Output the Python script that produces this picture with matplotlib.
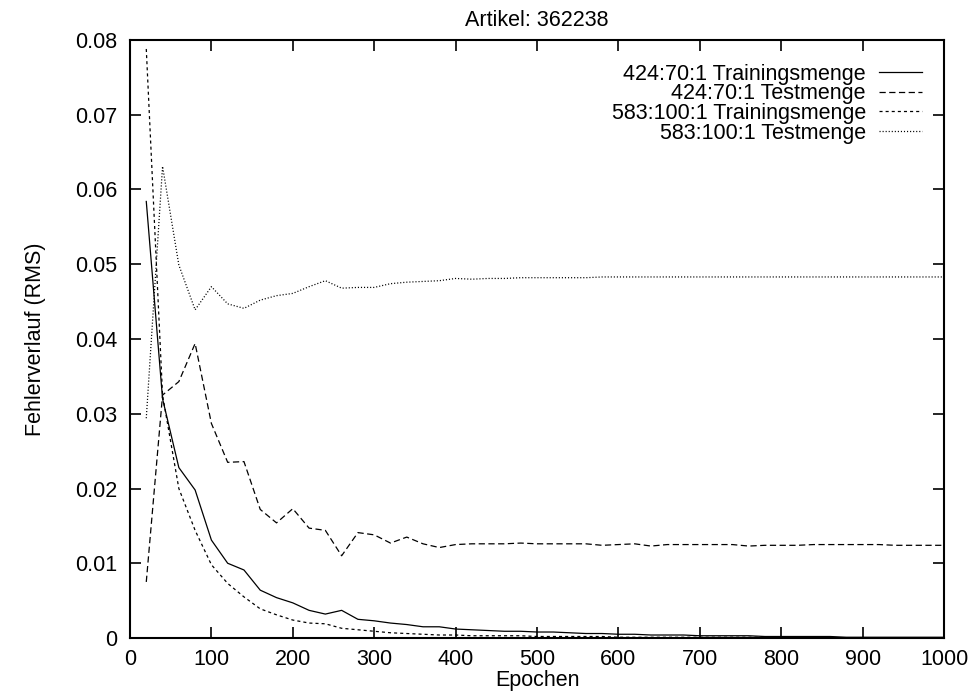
import matplotlib
matplotlib.use("Agg")
import matplotlib.pyplot as plt
from matplotlib.ticker import FuncFormatter, MultipleLocator

plt.rcParams['font.family'] = ['Liberation Sans', 'DejaVu Sans']
plt.rcParams['lines.scale_dashes'] = False

title = "Artikel: 362238"
xlabel = "Epochen"
ylabel = "Fehlerverlauf (RMS)"

epochs = list(range(20, 1001, 20))

train_424 = [0.0584, 0.0320, 0.0228, 0.0198, 0.0131, 0.0100, 0.0091, 0.0064, 0.0054, 0.0047,
             0.0037, 0.0032, 0.0037, 0.0025, 0.0023, 0.0020, 0.0018, 0.0015, 0.0015, 0.0012,
             0.0011, 0.0010, 0.0009, 0.0009, 0.0008, 0.0008, 0.0007, 0.0006, 0.0006, 0.0005,
             0.0005, 0.0004, 0.0004, 0.0004, 0.0003, 0.0003, 0.0003, 0.0003, 0.0002, 0.0002,
             0.0002, 0.0002, 0.0002, 0.0001, 0.0001, 0.0001, 0.0001, 0.0001, 0.0001, 0.0001]

test_424 = [0.0075, 0.0325, 0.0343, 0.0394, 0.0287, 0.0235, 0.0236, 0.0172, 0.0154, 0.0173,
            0.0147, 0.0144, 0.0110, 0.0141, 0.0138, 0.0127, 0.0135, 0.0126, 0.0121, 0.0125,
            0.0126, 0.0126, 0.0126, 0.0127, 0.0126, 0.0126, 0.0126, 0.0126, 0.0124, 0.0125,
            0.0126, 0.0123, 0.0125, 0.0125, 0.0125, 0.0125, 0.0125, 0.0123, 0.0124, 0.0124,
            0.0124, 0.0125, 0.0125, 0.0125, 0.0125, 0.0125, 0.0124, 0.0124, 0.0124, 0.0124]

train_583 = [0.0788, 0.0325, 0.0200, 0.0144, 0.0098, 0.0073, 0.0055, 0.0039, 0.0031, 0.0024,
             0.0020, 0.0019, 0.0013, 0.0011, 0.0009, 0.0007, 0.0006, 0.0005, 0.0004, 0.0004,
             0.0003, 0.0003, 0.0003, 0.0003, 0.0002, 0.0002, 0.0002, 0.0002, 0.0002, 0.0001,
             0.0001, 0.0001, 0.0001, 0.0001, 0.0001, 0.0001, 0.0001, 0.0001, 0.0001, 0.0001,
             0.00005, 0.00005, 0.00005, 0.00005, 0.00005, 0.00005, 0.00005, 0.00005, 0.00005, 0.00005]

test_583 = [0.0294, 0.0631, 0.0499, 0.0439, 0.0470, 0.0447, 0.0441, 0.0452, 0.0458, 0.0461,
            0.0470, 0.0478, 0.0468, 0.0469, 0.0469, 0.0474, 0.0476, 0.0477, 0.0478, 0.0481,
            0.0480, 0.0481, 0.0481, 0.0482, 0.0482, 0.0482, 0.0482, 0.0482, 0.0483, 0.0483,
            0.0483, 0.0483, 0.0483, 0.0483, 0.0483, 0.0483, 0.0483, 0.0483, 0.0483, 0.0483,
            0.0483, 0.0483, 0.0483, 0.0483, 0.0483, 0.0483, 0.0483, 0.0483, 0.0483, 0.0483]

labels = ["424:70:1 Trainingsmenge", "424:70:1 Testmenge",
          "583:100:1 Trainingsmenge", "583:100:1 Testmenge"]

fs = 15.5
fig = plt.figure(figsize=(9.71, 6.94), dpi=100)
ax = fig.add_axes([130 / 971, 1 - 638 / 694, 814 / 971, 598 / 694])

lw = 0.9
ax.plot(epochs, train_424, color='black', lw=lw, linestyle='-', label=labels[0])
ax.plot(epochs, test_424, color='black', lw=lw, linestyle=(0, (4.5, 2.5)), label=labels[1])
ax.plot(epochs, train_583, color='black', lw=lw, linestyle=(0, (2.2, 2.2)), label=labels[2])
ax.plot(epochs, test_583, color='black', lw=lw, linestyle=(0, (0.8, 1.4)), label=labels[3])

ax.set_xlim(0, 1000)
ax.set_ylim(0, 0.08)
ax.xaxis.set_major_locator(MultipleLocator(100))
ax.yaxis.set_major_locator(MultipleLocator(0.01))
ax.yaxis.set_major_formatter(FuncFormatter(lambda v, p: "0" if abs(v) < 1e-12 else f"{v:g}"))

ax.tick_params(direction='in', length=8, width=1.2, top=True, right=True,
               labelsize=fs, colors='black')
ax.tick_params(axis='y', pad=9)
ax.tick_params(axis='x', pad=8)
for s in ax.spines.values():
    s.set_linewidth(1.5)

ax.set_title(title, fontsize=fs, pad=10)
ax.set_xlabel(xlabel, fontsize=fs)
ax.set_ylabel(ylabel, fontsize=fs)
ax.xaxis.set_label_coords(0.5, -0.054)
ax.yaxis.set_label_coords(-0.103, 0.5)

leg = ax.legend(loc='upper right', frameon=False, fontsize=fs, markerfirst=False,
                handlelength=2.0, handletextpad=0.6, labelspacing=-0.06,
                borderaxespad=0.0, bbox_to_anchor=(0.9835, 0.975))

fig.savefig("out.png", dpi=100)
